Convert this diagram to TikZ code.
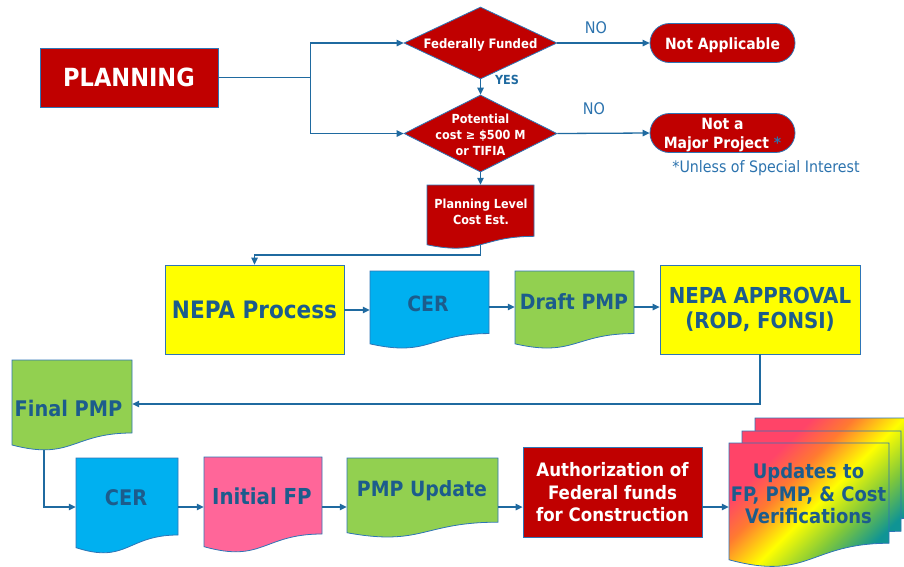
\documentclass[tikz,border=0pt]{standalone}
\usepackage{fontspec}
\setmainfont{DejaVu Sans Condensed}
\usetikzlibrary{shapes.geometric,arrows.meta,calc}
\definecolor{redA}{HTML}{C00000}
\definecolor{edgeB}{HTML}{2E75B6}
\definecolor{lineB}{HTML}{1F6AA0}
\definecolor{txtB}{HTML}{1C5C8C}
\definecolor{noB}{HTML}{2C73AE}
\definecolor{yelA}{HTML}{FFFF00}
\definecolor{cyaA}{HTML}{00B0F0}
\definecolor{grnA}{HTML}{92D050}
\definecolor{pnkA}{HTML}{FF6699}
\definecolor{gr1}{HTML}{FF4468}
\definecolor{gr2}{HTML}{FF7A30}
\definecolor{gr3}{HTML}{FFFF00}
\definecolor{gr4}{HTML}{80C83A}
\definecolor{gr5}{HTML}{0F9494}
\pgfdeclarehorizontalshading{rainbowdoc}{100bp}{color(0bp)=(gr1); color(28bp)=(gr1); color(38bp)=(gr2); color(50bp)=(gr3); color(62bp)=(gr4); color(73bp)=(gr5); color(100bp)=(gr5)}
\pgfdeclarelayer{bg}
\pgfsetlayers{bg,main}
% x1, ytop, x2, h, options
\newcommand\docshape[5]{\path[docline,#5] (#1,#2) -- (#3,#2) -- (#3,{#2+0.802*#4}) .. controls ({(#1+#3)/2},{#2+0.802*#4}) and ({(#1+#3)/2},{#2+1.107*#4}) .. (#1,{#2+0.934*#4}) -- cycle;}
\begin{document}
\begin{tikzpicture}[x=1pt,y=-1pt,
  conn/.style={draw=lineB, line width=1.3pt, -{Triangle[length=7pt,width=6.5pt]}},
  plainline/.style={draw=lineB, line width=1.3pt},
  docline/.style={draw=edgeB, line width=0.8pt},
  redbox/.style={rectangle, fill=redA, draw=edgeB, line width=0.8pt, text=white, align=center, inner sep=0pt},
  yelbox/.style={rectangle, fill=yelA, draw=edgeB, line width=0.8pt, text=txtB, align=center, inner sep=0pt},
  dia/.style={diamond, fill=redA, draw=edgeB, line width=0.8pt, inner sep=0pt},
  term/.style={rectangle, rounded corners=19.5pt, fill=redA, draw=edgeB, line width=0.8pt, inner sep=0pt, minimum width=145pt, minimum height=39pt},
  area/.style={rectangle, inner sep=0pt, draw=none},
  wtxt/.style={text=white, align=center, inner sep=0pt},
  btxt/.style={text=txtB, align=center, inner sep=0pt, font=\bfseries\fontsize{21.5}{25}\selectfont},
  lbl/.style={text=noB, inner sep=0pt, font=\fontsize{16}{18}\selectfont},
  shadedoc/.style={shade, shading=rainbowdoc, shading angle=-45}
]
\useasboundingbox (0,0) rectangle (904,566);

% ---------- top part ----------
\node[redbox, minimum width=178pt, minimum height=59pt, font=\bfseries\fontsize{25}{28}\selectfont] (plan) at (129,77.5) {PLANNING};
\node[dia, minimum width=153pt, minimum height=72pt] (d1) at (480.5,43) {};
\node[wtxt, font=\bfseries\fontsize{13}{16}\selectfont] (d1t) at (480.5,44.5) {Federally Funded};
\node[dia, minimum width=153pt, minimum height=77pt] (d2) at (480.5,133.5) {};
\node[wtxt, font=\bfseries\fontsize{12.5}{16}\selectfont] (d2t) at (480.5,134.5) {Potential\\cost ≥ \$500 M\\or TIFIA};
\node[term] (na) at (722.5,43) {};
\node[wtxt, font=\bfseries\fontsize{15.5}{19}\selectfont] (nat) at (722.5,45) {Not Applicable};
\node[term] (nmp) at (722.5,133) {};
\node[wtxt, font=\bfseries\fontsize{15.5}{19}\selectfont] (nmpt) at (722.5,135) {Not a\\Major Project {\color{noB}*}};
\node[lbl, font=\fontsize{15.8}{18}\selectfont] (unl) at (766,168) {*Unless of Special Interest};
\node[lbl] (no1) at (596,28) {NO};
\node[lbl] (no2) at (594,109) {NO};
\node[lbl, text=lineB, font=\bfseries\fontsize{12.5}{15}\selectfont] (yes) at (507,80) {YES};

\docshape{427}{185}{534}{64}{fill=redA}
\node[area, minimum width=107pt, minimum height=64pt] (plc) at (480.5,217) {};
\node[wtxt, font=\bfseries\fontsize{12.5}{16}\selectfont] (plct) at (481,211.5) {Planning Level\\Cost Est.};

\coordinate (j) at (310.5,77.5);
\draw[plainline] (plan.east) -- (j);
\draw[conn] (j) |- (d1.west);
\draw[conn] (j) |- (d2.west);
\draw[conn] (d1.east) -- (na.west);
\draw[conn] (d2.east) -- (nmp.west);
\draw[conn] (d1.south) -- (d2.north);
\draw[conn] (d2.south) -- (plc.north);

% ---------- middle row ----------
\node[yelbox, minimum width=179pt, minimum height=89pt, font=\bfseries\fontsize{24}{27}\selectfont] (nepa) at (254.5,309.5) {NEPA Process};
\docshape{370}{271}{489}{78}{fill=cyaA}
\node[area, minimum width=119pt, minimum height=78pt] (cer) at (429.5,310) {};
\node[btxt, font=\bfseries\fontsize{21}{25}\selectfont] (cert) at (428,303.5) {CER};
\docshape{515}{271}{634}{78}{fill=grnA}
\node[area, minimum width=119pt, minimum height=78pt] (dpmp) at (574.5,310) {};
\node[btxt, font=\bfseries\fontsize{21}{25}\selectfont] (dpmpt) at (574,302) {Draft PMP};
\node[yelbox, minimum width=200pt, minimum height=89pt, font=\bfseries\fontsize{22}{25}\selectfont] (appr) at (760,309.5) {NEPA APPROVAL\\(ROD, FONSI)};

\begin{pgfonlayer}{bg}
\draw[conn] (plc.center) -- (plc.center |- 0,255) -| (nepa.north);
\end{pgfonlayer}
\draw[conn] (nepa.east |- 0,310) -- (cer.west |- 0,310);
\draw[conn] (cer.east |- 0,307) -- (dpmp.west |- 0,307);
\draw[conn] (dpmp.east |- 0,307) -- (appr.west |- 0,307);

% ---------- bottom row ----------
\docshape{12}{360}{132}{91}{fill=grnA}
\node[area, minimum width=120pt, minimum height=91pt] (fpmp) at (72,405.5) {};
\node[btxt] (fpmpt) at (68.5,408) {Final PMP};
\docshape{76}{458}{178}{96}{fill=cyaA}
\node[area, minimum width=102pt, minimum height=96pt] (cer2) at (127,506) {};
\node[btxt] (cer2t) at (126,498) {CER};
\docshape{204}{457}{322}{96}{fill=pnkA}
\node[area, minimum width=118pt, minimum height=96pt] (ifp) at (263,505) {};
\node[btxt, font=\bfseries\fontsize{22}{25}\selectfont] (ifpt) at (262,496) {Initial FP};
\docshape{347}{458}{498}{80}{fill=grnA}
\node[area, minimum width=151pt, minimum height=80pt] (pmpu) at (422.5,498) {};
\node[btxt, font=\bfseries\fontsize{21}{25}\selectfont] (pmput) at (422,491) {PMP Update};
\node[redbox, minimum width=179pt, minimum height=90pt, font=\bfseries\fontsize{18.5}{22.5}\selectfont] (auth) at (612.5,492.5) {Authorization of\\Federal funds\\for Construction};
\docshape{755}{418}{915}{125}{shadedoc}
\docshape{742}{431}{901}{125}{shadedoc}
\docshape{729}{443}{889}{125}{shadedoc}
\node[area, minimum width=160pt, minimum height=125pt] (upd) at (809,505.5) {};
\node[btxt, font=\bfseries\fontsize{20}{22.5}\selectfont] (updt) at (808.5,494) {Updates to\\FP, PMP, \& Cost\\Verifications};

\draw[conn] (appr.south) |- (fpmp.east |- 0,404);
\begin{pgfonlayer}{bg}
\draw[conn] ([xshift=-28pt]fpmp.center) |- (cer2.west |- 0,507);
\end{pgfonlayer}
\draw[conn] (cer2.east |- 0,507) -- (ifp.west |- 0,507);
\draw[conn] (ifp.east |- 0,507) -- (pmpu.west |- 0,507);
\draw[conn] (pmpu.east |- 0,507) -- (auth.west |- 0,507);
\draw[conn] (auth.east |- 0,507) -- (upd.west |- 0,507);
\end{tikzpicture}
\end{document}
